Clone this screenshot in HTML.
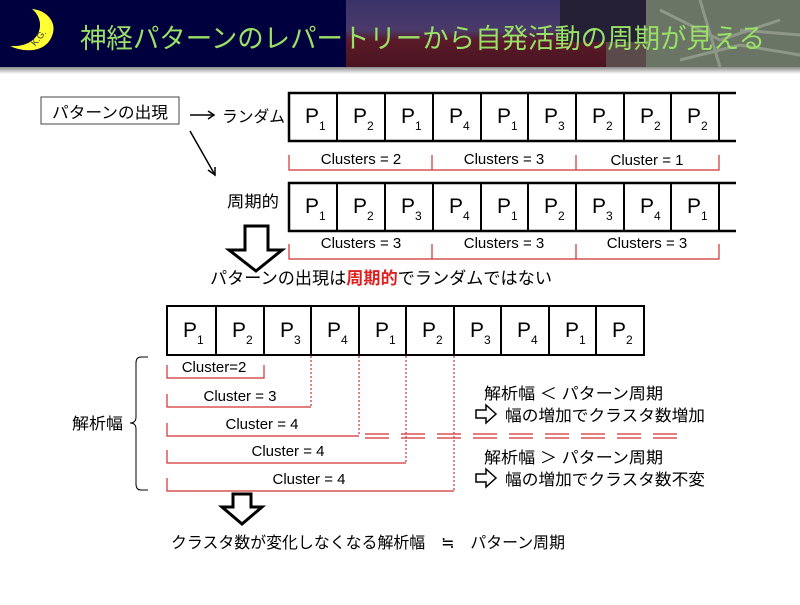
<!DOCTYPE html>
<html><head><meta charset="utf-8"><style>
body{margin:0;width:800px;height:600px;overflow:hidden;background:#fff;font-family:"Liberation Sans","Noto Sans CJK JP",sans-serif;}
</style></head><body>
<svg width="800" height="600" xmlns="http://www.w3.org/2000/svg" style="font-family:'Liberation Sans','Noto Sans CJK JP',sans-serif">
<defs>
<linearGradient id="sh" x1="0" y1="0" x2="0" y2="1"><stop offset="0" stop-color="#888"/><stop offset="1" stop-color="#fff"/></linearGradient>
<linearGradient id="img" x1="0" y1="0" x2="0" y2="1"><stop offset="0" stop-color="#3a3268"/><stop offset="0.45" stop-color="#4a3a6a"/><stop offset="0.6" stop-color="#5a1a2a"/><stop offset="1" stop-color="#4a1420"/></linearGradient>
</defs>
<rect x="0" y="0" width="800" height="67" fill="#00003f"/>
<rect x="346" y="0" width="300" height="67" fill="url(#img)"/>
<rect x="560" y="0" width="86" height="42" fill="#252035"/>
<rect x="606" y="42" width="40" height="25" fill="#5a4a4a"/>
<rect x="646" y="0" width="154" height="67" fill="#6a7566"/>
<path d="M660 10 L720 40 L780 20 M680 60 L740 45 L800 55 M700 0 L720 67 M740 30 L800 35" stroke="#a8ae9e" stroke-width="3" fill="none" opacity="0.6"/>
<rect x="0" y="67" width="800" height="7" fill="url(#sh)"/>
<path d="M32 9 C48 22 40 48 10 46 C22 52 45 54 52 36 C58 22 46 10 32 9 Z" fill="#ffff33"/>
<text x="32" y="48" font-size="9" fill="#333" transform="rotate(-50 32 44)">K.G.</text>
<text x="80" y="48" font-size="27" fill="#99e066" textLength="685" lengthAdjust="spacingAndGlyphs">神経パターンのレパートリーから自発活動の周期が見える</text>

<rect x="41" y="97" width="138" height="27" fill="#fff" stroke="#444" stroke-width="1"/>
<text x="52" y="118" font-size="16" textLength="116" lengthAdjust="spacingAndGlyphs">パターンの出現</text>
<g stroke="#000" stroke-width="1.5" fill="none">
<line x1="190" y1="115" x2="214" y2="115"/><path d="M208 111 L214 115 L208 119"/>
<line x1="190" y1="131" x2="215" y2="175"/><path d="M208 170 L215 175 L215 167"/>
</g>
<text x="222" y="122" font-size="16" textLength="63" lengthAdjust="spacingAndGlyphs">ランダム</text>
<text x="227" y="207" font-size="16" textLength="52" lengthAdjust="spacingAndGlyphs">周期的</text>

<g stroke="#000" stroke-width="2.5" fill="none">
<path d="M736 93 H289 V141 H736"/>
<path d="M736 183 H289 V231 H736"/>
</g>
<g stroke="#000" stroke-width="2">
<line x1="337" y1="93" x2="337" y2="141"/><line x1="385" y1="93" x2="385" y2="141"/><line x1="433" y1="93" x2="433" y2="141"/><line x1="481" y1="93" x2="481" y2="141"/><line x1="528" y1="93" x2="528" y2="141"/><line x1="576" y1="93" x2="576" y2="141"/><line x1="624" y1="93" x2="624" y2="141"/><line x1="671" y1="93" x2="671" y2="141"/><line x1="719" y1="93" x2="719" y2="141"/>
<line x1="337" y1="183" x2="337" y2="231"/><line x1="385" y1="183" x2="385" y2="231"/><line x1="433" y1="183" x2="433" y2="231"/><line x1="481" y1="183" x2="481" y2="231"/><line x1="528" y1="183" x2="528" y2="231"/><line x1="576" y1="183" x2="576" y2="231"/><line x1="624" y1="183" x2="624" y2="231"/><line x1="671" y1="183" x2="671" y2="231"/><line x1="719" y1="183" x2="719" y2="231"/>
</g>
<g font-size="21">
<text x="305" y="123">P<tspan font-size="12" dy="7">1</tspan></text>
<text x="353" y="123">P<tspan font-size="12" dy="7">2</tspan></text>
<text x="401" y="123">P<tspan font-size="12" dy="7">1</tspan></text>
<text x="449" y="123">P<tspan font-size="12" dy="7">4</tspan></text>
<text x="497" y="123">P<tspan font-size="12" dy="7">1</tspan></text>
<text x="544" y="123">P<tspan font-size="12" dy="7">3</tspan></text>
<text x="592" y="123">P<tspan font-size="12" dy="7">2</tspan></text>
<text x="640" y="123">P<tspan font-size="12" dy="7">2</tspan></text>
<text x="687" y="123">P<tspan font-size="12" dy="7">2</tspan></text>
<text x="305" y="213">P<tspan font-size="12" dy="7">1</tspan></text>
<text x="353" y="213">P<tspan font-size="12" dy="7">2</tspan></text>
<text x="401" y="213">P<tspan font-size="12" dy="7">3</tspan></text>
<text x="449" y="213">P<tspan font-size="12" dy="7">4</tspan></text>
<text x="497" y="213">P<tspan font-size="12" dy="7">1</tspan></text>
<text x="544" y="213">P<tspan font-size="12" dy="7">2</tspan></text>
<text x="592" y="213">P<tspan font-size="12" dy="7">3</tspan></text>
<text x="640" y="213">P<tspan font-size="12" dy="7">4</tspan></text>
<text x="687" y="213">P<tspan font-size="12" dy="7">1</tspan></text>
</g>
<g stroke="#d03030" stroke-width="1.2" fill="none">
<path d="M289 155 V170 H719 V155 M432 155 V170 M576 155 V170"/>
<path d="M289 244 V259 H719 V244 M432 244 V259 M576 244 V259"/>
</g>
<g font-size="15" text-anchor="middle">
<text x="361" y="164">Clusters = 2</text><text x="504" y="164">Clusters = 3</text><text x="647" y="165">Cluster = 1</text>
<text x="361" y="248">Clusters = 3</text><text x="504" y="248">Clusters = 3</text><text x="647" y="248">Clusters = 3</text>
</g>
<path d="M245 226 H268 V250 H282 L256 271 L229 250 H245 Z" fill="#fff" stroke="#000" stroke-width="3"/>
<text x="210" y="284" font-size="17" textLength="342" lengthAdjust="spacingAndGlyphs">パターンの出現は<tspan fill="#e02020" font-weight="bold">周期的</tspan>でランダムではない</text>

<rect x="167" y="306" width="477" height="49" fill="#fff" stroke="#000" stroke-width="2"/>
<g stroke="#000" stroke-width="2">
<line x1="216" y1="306" x2="216" y2="355"/><line x1="264" y1="306" x2="264" y2="355"/><line x1="311" y1="306" x2="311" y2="355"/><line x1="359" y1="306" x2="359" y2="355"/><line x1="406" y1="306" x2="406" y2="355"/><line x1="454" y1="306" x2="454" y2="355"/><line x1="501" y1="306" x2="501" y2="355"/><line x1="549" y1="306" x2="549" y2="355"/><line x1="596" y1="306" x2="596" y2="355"/>
</g>
<g font-size="21">
<text x="183" y="337">P<tspan font-size="12" dy="7">1</tspan></text>
<text x="232" y="337">P<tspan font-size="12" dy="7">2</tspan></text>
<text x="280" y="337">P<tspan font-size="12" dy="7">3</tspan></text>
<text x="327" y="337">P<tspan font-size="12" dy="7">4</tspan></text>
<text x="375" y="337">P<tspan font-size="12" dy="7">1</tspan></text>
<text x="422" y="337">P<tspan font-size="12" dy="7">2</tspan></text>
<text x="470" y="337">P<tspan font-size="12" dy="7">3</tspan></text>
<text x="517" y="337">P<tspan font-size="12" dy="7">4</tspan></text>
<text x="565" y="337">P<tspan font-size="12" dy="7">1</tspan></text>
<text x="612" y="337">P<tspan font-size="12" dy="7">2</tspan></text>
</g>
<g stroke="#d03030" stroke-width="1.2" fill="none">
<path d="M167 365 V378 H264 V365"/>
<path d="M167 394 V407 H311"/>
<path d="M167 423 V436 H359"/>
<path d="M167 450 V463 H406"/>
<path d="M167 478 V491 H454"/>
<g stroke-dasharray="2,2">
<line x1="311" y1="356" x2="311" y2="407"/><line x1="359" y1="356" x2="359" y2="436"/><line x1="406" y1="356" x2="406" y2="463"/><line x1="454" y1="356" x2="454" y2="491"/>
</g>
<g stroke-dasharray="24,12">
<line x1="365" y1="434" x2="684" y2="434"/><line x1="365" y1="438" x2="684" y2="438"/>
</g>
</g>
<g font-size="15" text-anchor="middle">
<text x="214" y="372">Cluster=2</text><text x="240" y="401">Cluster = 3</text><text x="262" y="429">Cluster = 4</text><text x="288" y="456">Cluster = 4</text><text x="309" y="484">Cluster = 4</text>
</g>
<path d="M148 357 H141 Q136 357 136 363 V417 Q136 423 130 423 Q136 423 136 429 V484 Q136 490 141 490 H148" fill="none" stroke="#000" stroke-width="1"/>
<text x="72" y="429" font-size="16" textLength="51" lengthAdjust="spacingAndGlyphs">解析幅</text>
<g font-size="16">
<text x="484" y="399" textLength="179" lengthAdjust="spacingAndGlyphs">解析幅 ＜ パターン周期</text>
<text x="505" y="421" textLength="200" lengthAdjust="spacingAndGlyphs">幅の増加でクラスタ数増加</text>
<text x="484" y="463" textLength="179" lengthAdjust="spacingAndGlyphs">解析幅 ＞ パターン周期</text>
<text x="505" y="485" textLength="200" lengthAdjust="spacingAndGlyphs">幅の増加でクラスタ数不変</text>
</g>
<g fill="#fff" stroke="#000" stroke-width="1.5">
<path d="M476 410 H486 V405 L496 414 L486 423 V418 H476 Z"/>
<path d="M476 474 H486 V469 L496 478 L486 487 V482 H476 Z"/>
</g>
<path d="M233 494 H251 V507 H262 L242 524 L222 507 H233 Z" fill="#fff" stroke="#000" stroke-width="3"/>
<text x="171" y="548" font-size="16" textLength="394" lengthAdjust="spacingAndGlyphs">クラスタ数が変化しなくなる解析幅　≒　パターン周期</text>
</svg>
</body></html>
